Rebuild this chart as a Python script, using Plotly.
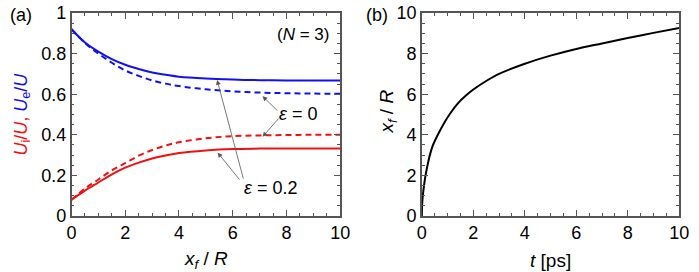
import plotly.graph_objects as go

# ---------------- data: panel (a) ----------------
xf_a = [0, 0.5, 1, 1.5, 2, 2.5, 3, 3.5, 4, 5, 6, 7, 8, 9, 10]
ue_eps02 = [0.92, 0.855, 0.81, 0.773, 0.745, 0.724, 0.707, 0.696, 0.686, 0.677, 0.672, 0.669, 0.668, 0.667, 0.667]
ue_eps0 = [0.92, 0.852, 0.80, 0.755, 0.717, 0.69, 0.668, 0.652, 0.64, 0.624, 0.614, 0.608, 0.605, 0.603, 0.602]
ui_eps02 = [0.08, 0.125, 0.165, 0.205, 0.238, 0.263, 0.283, 0.298, 0.31, 0.323, 0.33, 0.332, 0.333, 0.333, 0.333]
ui_eps0 = [0.08, 0.135, 0.18, 0.225, 0.26, 0.297, 0.325, 0.347, 0.363, 0.383, 0.393, 0.397, 0.399, 0.40, 0.40]

# ---------------- data: panel (b) ----------------
t_ps = [0, 0.005, 0.02, 0.05, 0.1, 0.15, 0.22, 0.3, 0.42, 0.62, 0.85, 1.1, 1.4, 1.7,
        2, 2.5, 3, 4, 5, 6, 7, 8, 9, 10]
xf_b = [0, 0.4, 0.75, 1.15, 1.65, 2.05, 2.5, 2.95, 3.45, 4.0, 4.55, 5.05, 5.55, 5.92,
        6.23, 6.65, 7.0, 7.5, 7.9, 8.23, 8.5, 8.77, 9.02, 9.26]

BLUE = "#1010f0"
RED = "#f01010"
AX = "#555555"
FONT = "Liberation Sans, Arial, sans-serif"

fig = go.Figure()
lw = 2
fig.add_trace(go.Scatter(x=xf_a, y=ue_eps02, mode="lines", line=dict(color=BLUE, width=lw, shape="spline"),
                         xaxis="x", yaxis="y", showlegend=False))
fig.add_trace(go.Scatter(x=xf_a, y=ue_eps0, mode="lines", line=dict(color=BLUE, width=lw, dash="6px,4px", shape="spline"),
                         xaxis="x", yaxis="y", showlegend=False))
fig.add_trace(go.Scatter(x=xf_a, y=ui_eps02, mode="lines", line=dict(color=RED, width=lw, shape="spline"),
                         xaxis="x", yaxis="y", showlegend=False))
fig.add_trace(go.Scatter(x=xf_a, y=ui_eps0, mode="lines", line=dict(color=RED, width=lw, dash="6px,4px", shape="spline"),
                         xaxis="x", yaxis="y", showlegend=False))
fig.add_trace(go.Scatter(x=t_ps, y=xf_b, mode="lines", line=dict(color="black", width=lw, shape="spline", smoothing=0.9),
                         xaxis="x2", yaxis="y2", showlegend=False))

W, H = 699, 272
TOP, BOT = 13, 216


def axis_common(dtick, minor, rng):
    return dict(range=rng, dtick=dtick, ticks="inside", ticklen=6, tickwidth=1, tickcolor=AX,
                minor=dict(dtick=minor, ticks="inside", ticklen=3, tickcolor=AX, tickwidth=1),
                showline=True, linecolor=AX, linewidth=1.5, mirror="allticks",
                showgrid=False, zeroline=False, tickfont=dict(size=18, color="black", family=FONT))


fig.update_layout(
    width=W, height=H,
    margin=dict(l=0, r=0, t=TOP, b=H - BOT),
    paper_bgcolor="white", plot_bgcolor="white",
    font=dict(family=FONT, color="black"),
    xaxis=dict(domain=[68 / W, 342.5 / W], anchor="y", **axis_common(2, 0.5, [0, 10])),
    yaxis=dict(domain=[0, 1], anchor="x", **axis_common(0.2, 0.05, [0, 1])),
    xaxis2=dict(domain=[426 / W, 689 / W], anchor="y2", **axis_common(2, 0.5, [0, 10])),
    yaxis2=dict(domain=[0, 1], anchor="x2", **axis_common(2, 0.5, [0, 10])),
)

ann = []
# axis titles
ann.append(dict(xref="x", yref="paper", x=5, y=(BOT - 260) / (BOT - TOP), text="<i>x<sub>f</sub></i> / <i>R</i>",
                showarrow=False, font=dict(size=19), xanchor="center", yanchor="middle"))
ann.append(dict(xref="x2", yref="paper", x=5, y=(BOT - 260) / (BOT - TOP), text="<i>t</i> [ps]",
                showarrow=False, font=dict(size=19), xanchor="center", yanchor="middle"))
ann.append(dict(xref="paper", yref="paper", x=18 / W, y=(BOT - 114) / (BOT - TOP), textangle=-90,
                text=f'<span style="color:{RED}"><i>U</i><sub>i</sub>/<i>U</i>,</span> '
                     f'<span style="color:{BLUE}"><i>U</i><sub>e</sub>/<i>U</i></span>',
                showarrow=False, font=dict(size=18), xanchor="center", yanchor="middle"))
ann.append(dict(xref="paper", yref="paper", x=391 / W, y=(BOT - 112) / (BOT - TOP), textangle=-90,
                text="<i>x<sub>f</sub></i> / <i>R</i>",
                showarrow=False, font=dict(size=19), xanchor="center", yanchor="middle"))
# panel labels
ann.append(dict(xref="paper", yref="paper", x=16 / W, y=(BOT - 15) / (BOT - TOP), text="(a)",
                showarrow=False, font=dict(size=18), xanchor="center", yanchor="middle"))
ann.append(dict(xref="paper", yref="paper", x=380 / W, y=(BOT - 15) / (BOT - TOP), text="(b)",
                showarrow=False, font=dict(size=18), xanchor="center", yanchor="middle"))
ann.append(dict(xref="x", yref="y", x=8.63, y=0.892, text="(<i>N</i> = 3)",
                showarrow=False, font=dict(size=17), xanchor="center", yanchor="middle"))
# epsilon labels
ann.append(dict(xref="x", yref="y", x=8.42, y=0.502, text="<i>ε</i> = 0",
                showarrow=False, font=dict(size=18), xanchor="center", yanchor="middle"))
ann.append(dict(xref="x", yref="y", x=7.42, y=0.136, text="<i>ε</i> = 0.2",
                showarrow=False, font=dict(size=18), xanchor="center", yanchor="middle"))
# arrows (head x,y ; tail ax,ay)
arrows = [
    (5.42, 0.67, 6.41, 0.177),
    (5.44, 0.312, 6.3, 0.172),
    (7.11, 0.59, 7.72, 0.512),
    (7.11, 0.39, 7.76, 0.488),
]
for hx, hy, tx, ty in arrows:
    ann.append(dict(xref="x", yref="y", axref="x", ayref="y", x=hx, y=hy, ax=tx, ay=ty, text="",
                    showarrow=True, arrowhead=2, arrowsize=1.2, arrowwidth=0.8, arrowcolor="#555555",
                    standoff=0, startstandoff=0))
fig.update_layout(annotations=ann)

fig.write_html("out.html", config={"displayModeBar": False},
               post_script="document.body.style.margin='0';")
